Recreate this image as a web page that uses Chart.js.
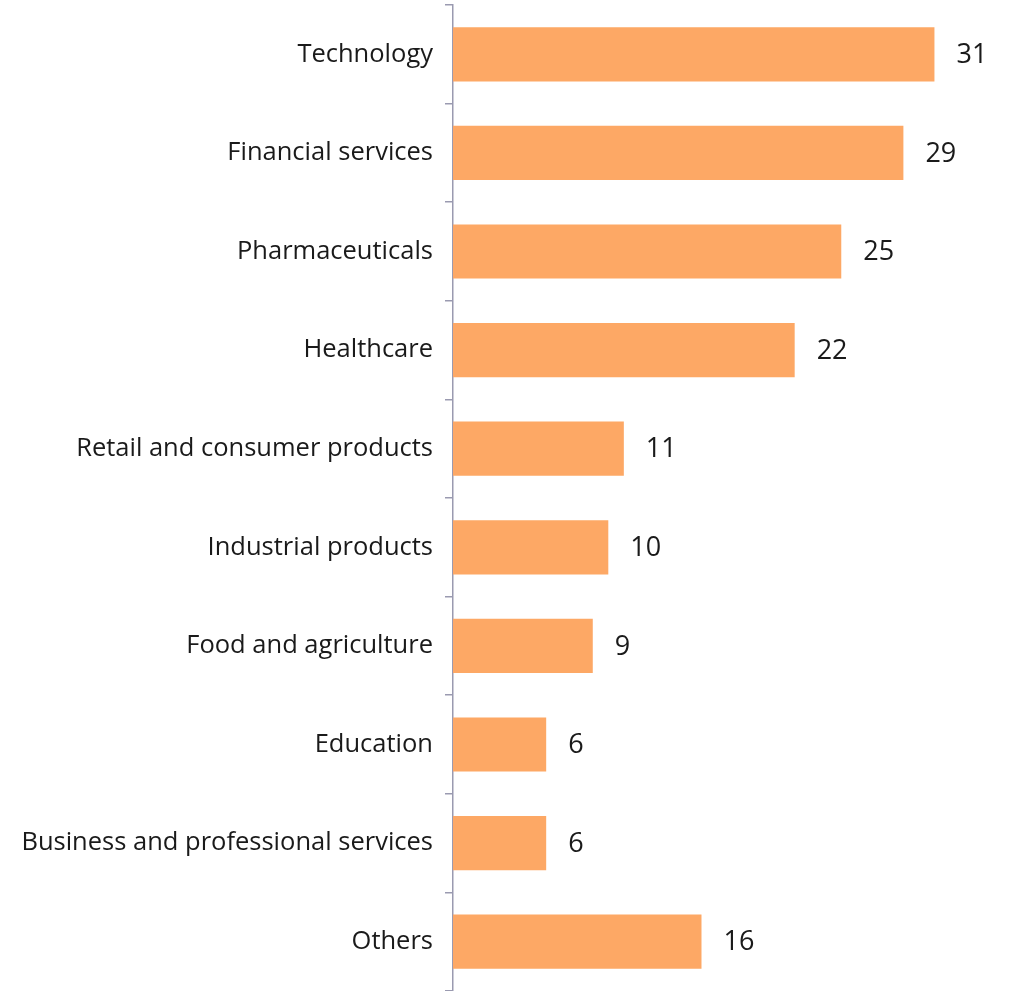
<!DOCTYPE html>
<html>
<head>
<meta charset="utf-8">
<script src="https://cdn.jsdelivr.net/npm/chart.js@4/dist/chart.umd.min.js"></script>
<style>
  html, body { margin: 0; padding: 0; background: #fff; }
  #wrap { width: 1009px; height: 991px; position: relative; }
</style>
</head>
<body>
<div id="wrap"><canvas id="chart"></canvas></div>
<script>
// sectors and counts
var sectors = ['Technology', 'Financial services', 'Pharmaceuticals', 'Healthcare',
  'Retail and consumer products', 'Industrial products', 'Food and agriculture',
  'Education', 'Business and professional services', 'Others'];
var counts = [31, 29, 25, 22, 11, 10, 9, 6, 6, 16];

var barColor = '#FDA865';
var axisColor = '#9a9ab0';

// draws the number right of each bar
var valueLabels = {
  id: 'valueLabels',
  afterDatasetsDraw: function(chart) {
    var ctx = chart.ctx;
    var meta = chart.getDatasetMeta(0);
    ctx.save();
    ctx.font = '27px "Open Sans"';
    ctx.fillStyle = '#1a1a1a';
    ctx.textAlign = 'left';
    ctx.textBaseline = 'middle';
    meta.data.forEach(function(bar, i) {
      ctx.fillText(String(counts[i]), bar.x + 22, bar.y + 1);
    });
    ctx.restore();
  }
};

new Chart(document.getElementById('chart').getContext('2d'), {
  type: 'bar',
  data: {
    labels: sectors,
    datasets: [{
      data: counts,
      backgroundColor: barColor,
      borderWidth: 0,
      barPercentage: 0.55,
      categoryPercentage: 1
    }]
  },
  options: {
    indexAxis: 'y',
    responsive: true,
    maintainAspectRatio: false,
    animation: false,
    layout: { padding: { top: 5, right: 0, bottom: 0, left: 0 } },
    plugins: {
      legend: { display: false },
      tooltip: { enabled: false }
    },
    scales: {
      x: {
        display: false,
        min: 0,
        max: 35.8
      },
      y: {
        afterFit: function(scale) {
          scale.width = 453;
          scale.paddingTop = 0;
          scale.paddingBottom = 0;
        },
        grid: {
          offset: true,
          drawOnChartArea: false,
          drawTicks: true,
          tickLength: 8,
          color: axisColor,
          lineWidth: 1.5
        },
        border: { display: true, color: axisColor, width: 1.5 },
        ticks: {
          color: '#1a1a1a',
          padding: 12,
          font: { family: '"Open Sans"', size: 25.5 }
        }
      }
    }
  },
  plugins: [valueLabels]
});
</script>
</body>
</html>
